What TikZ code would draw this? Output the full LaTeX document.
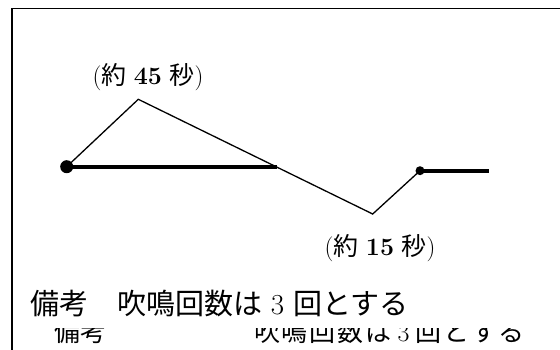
\documentclass[tikz,border=0pt]{standalone}
\usepackage{fontspec}
\newfontfamily\jp{Noto Sans CJK JP}
\newcommand\gsp{\hspace{1.8pt}}
\begin{document}
\begin{tikzpicture}[x=1pt,y=-1pt,
  frameline/.style={line width=1.5pt, line cap=rect},
  thinline/.style={line width=1.3pt, line join=miter},
  thickline/.style={line width=4pt},
  bigdot/.style={circle, fill=black, inner sep=0pt, minimum size=13pt},
  smalldot/.style={circle, fill=black, inner sep=0pt, minimum size=9pt},
  lbl/.style={inner sep=0pt, font=\fontsize{25}{30}\selectfont},
  note/.style={inner sep=0pt, anchor=base west, font=\fontsize{29}{32}\selectfont},
  ghost/.style={inner sep=0pt, anchor=base west, font=\fontsize{26}{30}\selectfont}]
\useasboundingbox (0,0) rectangle (560,349);
% frame
\coordinate (fbl) at (12,349);
\coordinate (ftl) at (12,8.7);
\coordinate (ftr) at (560,8.7);
\draw[frameline] (fbl) -- (ftl) -- (ftr);
% points
\node[bigdot] (d1) at (66.7,166.7) {};
\coordinate (peak) at (138.3,99.3);
\coordinate (cross) at (276.7,166.7);
\coordinate (valley) at (372.7,214);
\node[smalldot] (d2) at (420,170.7) {};
\coordinate (tend) at (489.3,170.7);
% lines
\draw[thinline] (d1.center) -- (peak) -- (valley) -- (d2.center);
\draw[thickline] (d1.center) -- (cross);
\draw[thickline] (d2.center) -- (tend);
% labels
\node[lbl] (l45) at (148,77) {({\jp 約} \textbf{45} {\jp 秒})};
\node[lbl] (l15) at (380,248) {({\jp 約} \textbf{15} {\jp 秒})};
\node[note] (n1) at (30,314) {{\jp 備考　吹鳴回数は} 3 {\jp 回とする}};
\begin{scope}
\clip (13,328) rectangle (560,349);
\node[ghost] (g1) at (54,341) {\jp 備考};
\node[ghost] (g2) at (254,341) {{\jp 吹\gsp 鳴\gsp 回\gsp 数\gsp は}\gsp\,3\,\gsp{\jp 回\gsp と\gsp す\gsp る}};
\end{scope}
\end{tikzpicture}
\end{document}
